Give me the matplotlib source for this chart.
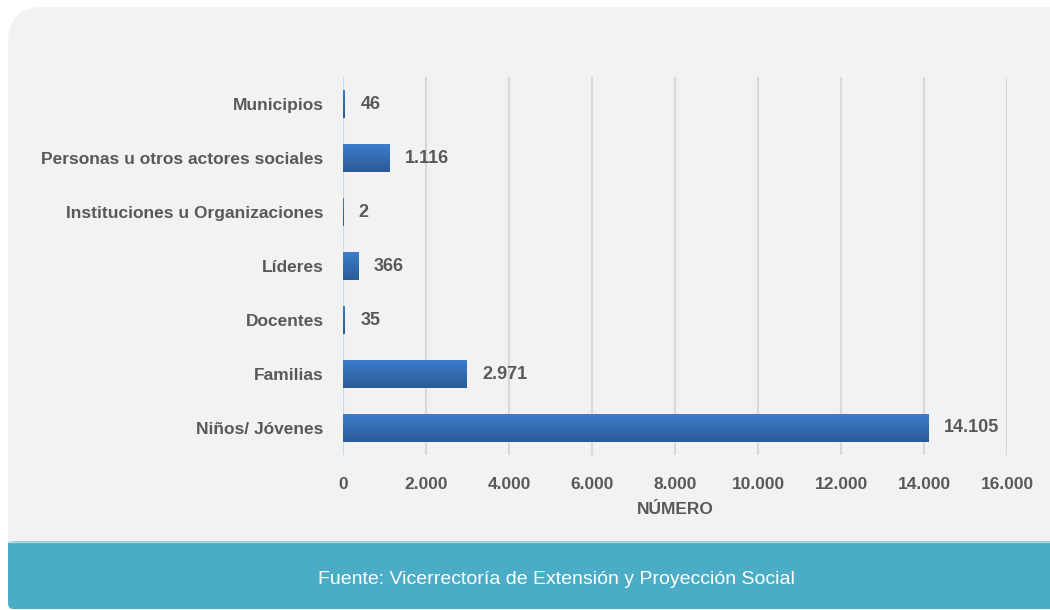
import matplotlib
matplotlib.use('Agg')
import matplotlib.pyplot as plt
from matplotlib.patches import FancyBboxPatch, Rectangle
import numpy as np

plt.rcParams['font.family'] = ['Liberation Sans', 'DejaVu Sans']

# Datos
categorias = ['Niños/ Jóvenes', 'Familias', 'Docentes', 'Líderes',
              'Instituciones u Organizaciones', 'Personas u otros actores sociales',
              'Municipios']
valores = [14105, 2971, 35, 366, 2, 1116, 46]
ticks_x = [0, 2000, 4000, 6000, 8000, 10000, 12000, 14000, 16000]
fuente = 'Fuente: Vicerrectoría de Extensión y Proyección Social'

GRIS_TXT = '#595959'

def miles(v):
    return f'{v:,}'.replace(',', '.')

fig = plt.figure(figsize=(10.5, 6.1), dpi=100, facecolor='white')

# fondo tipo tarjeta (coordenadas en pixeles)
bg = fig.add_axes([0, 0, 1, 1], zorder=0)
bg.set_xlim(0, 1050)
bg.set_ylim(610, 0)
bg.axis('off')
bg.add_patch(FancyBboxPatch((8 + 35, 7 + 35), 1200, 800,
                            boxstyle='round,pad=35,rounding_size=35',
                            fc='#F2F2F2', ec='none'))
bg.add_patch(FancyBboxPatch((8, 541.5), 1200, 67.5,
                            boxstyle='round,pad=0,rounding_size=6',
                            fc='#4BACC6', ec='none'))
bg.add_patch(Rectangle((8, 541.5), 1100, 30, fc='#4BACC6', ec='none'))
bg.axhline(541.5, xmin=8 / 1050, color='#A9D5E3', lw=1)
bg.text(556, 580, fuente, color='white', fontsize=14, ha='center', va='center')

# grafico de barras
ax = fig.add_axes([343 / 1050, 1 - 455 / 610, (1007 - 343) / 1050, (455 - 77) / 610],
                  zorder=1)
ax.patch.set_visible(False)
y = np.arange(len(categorias))
barras = ax.barh(y, valores, height=0.52, color='#3465A8', zorder=3)

# degradado vertical en cada barra
grad = np.linspace(0, 1, 64).reshape(-1, 1)
cmap = matplotlib.colors.LinearSegmentedColormap.from_list('azul', ['#3D7ECE', '#2B5A96'])
for b in barras:
    x0, y0 = b.get_x(), b.get_y()
    w, h = b.get_width(), b.get_height()
    im = ax.imshow(grad, cmap=cmap, aspect='auto', extent=(x0, x0 + w, y0, y0 + h),
                   origin='upper', zorder=4)
    im.set_clip_path(b)

for yi, v in zip(y, valores):
    ax.text(v + 380, yi, miles(v), ha='left', va='center', fontsize=13,
            fontweight='bold', color=GRIS_TXT, zorder=5)

ax.set_xlim(0, 16000)
ax.set_ylim(-0.5, len(categorias) - 0.5)
ax.set_xticks(ticks_x)
ax.set_xticklabels([miles(t) for t in ticks_x])
ax.set_yticks(y)
ax.set_yticklabels(categorias)
ax.grid(axis='x', color='#D9D9D9', lw=1.5, zorder=1)
ax.axvline(0, color='#C6D9F1', lw=1.5, zorder=2)
for s in ax.spines.values():
    s.set_visible(False)
ax.tick_params(length=0, labelcolor=GRIS_TXT)
ax.tick_params(axis='x', pad=16, labelsize=12.5)
ax.tick_params(axis='y', pad=14, labelsize=12.5)
for t in ax.get_xticklabels() + ax.get_yticklabels():
    t.set_fontweight('bold')
ax.set_xlabel('NÚMERO', fontsize=12.5, fontweight='bold', color=GRIS_TXT, labelpad=7)

fig.savefig('out.png', dpi=100, facecolor='white')
